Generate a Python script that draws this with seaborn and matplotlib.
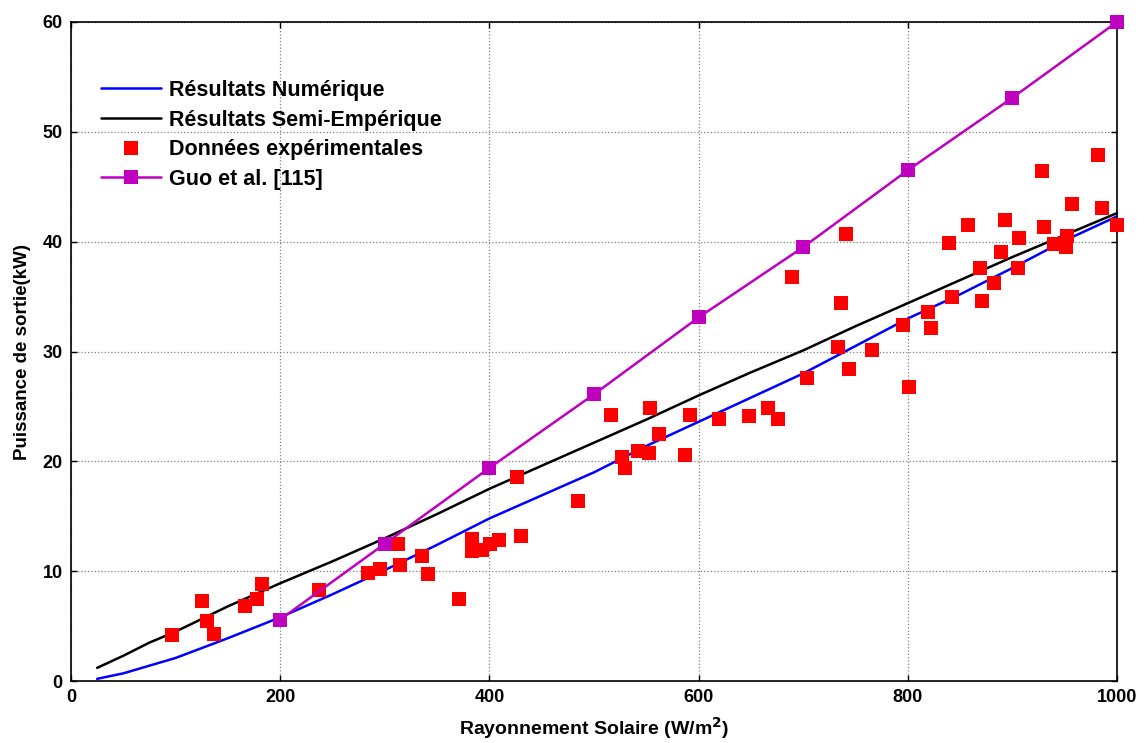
import matplotlib
matplotlib.use("Agg")
import matplotlib.pyplot as plt
import seaborn as sns
import pandas as pd
from matplotlib.lines import Line2D

# ---- data ----
num_x = [25, 50, 100, 150, 200, 250, 300, 350, 400, 450, 500, 550, 600, 650, 700, 750, 800, 850, 900, 950, 1000]
num_y = [0.2, 0.7, 2.1, 3.9, 5.8, 7.9, 10.1, 12.4, 14.8, 16.9, 19.0, 21.4, 23.6, 25.8, 28.0, 30.5, 33.0, 35.2, 37.6, 40.1, 42.3]

semi_x = [25, 50, 75, 100, 150, 200, 250, 300, 350, 400, 450, 500, 550, 600, 650, 700, 750, 800, 850, 900, 950, 1000]
semi_y = [1.2, 2.3, 3.5, 4.5, 6.8, 8.9, 10.9, 13.0, 15.2, 17.5, 19.6, 21.7, 23.8, 26.0, 28.1, 30.1, 32.3, 34.4, 36.5, 38.6, 40.6, 42.6]

exp_x = [97, 125, 130, 137, 166, 178, 183, 237, 284, 295,
         313, 315, 336, 341, 371, 383, 383, 393, 401, 409,
         426, 430, 485, 516, 527, 530, 542, 553, 554, 562,
         587, 592, 620, 648, 666, 676, 689, 704, 733, 736,
         741, 744, 766, 795, 801, 819, 822, 839, 842, 858,
         869, 871, 882, 889, 893, 905, 906, 928, 930, 940,
         951, 952, 957, 982, 986, 1000]
exp_y = [4.2, 7.3, 5.5, 4.3, 6.8, 7.5, 8.8, 8.3, 9.8, 10.2,
         12.5, 10.6, 11.4, 9.7, 7.5, 12.9, 11.8, 11.9, 12.5, 12.8,
         18.6, 13.2, 16.4, 24.2, 20.4, 19.4, 20.9, 20.8, 24.9, 22.5,
         20.6, 24.2, 23.9, 24.1, 24.9, 23.9, 36.8, 27.6, 30.4, 34.4,
         40.7, 28.4, 30.1, 32.4, 26.8, 33.6, 32.1, 39.9, 35.0, 41.5,
         37.6, 34.6, 36.2, 39.1, 42.0, 37.6, 40.3, 46.4, 41.3, 39.8,
         39.5, 40.5, 43.4, 47.9, 43.1, 41.5]

guo_x = [200, 300, 400, 500, 600, 700, 800, 900, 1000]
guo_y = [5.6, 12.5, 19.4, 26.1, 33.1, 39.5, 46.5, 53.1, 60.0]

labels = ["Résultats Numérique", "Résultats Semi-Empérique", "Données expérimentales", "Guo et al. [115]"]
x_ticks = [0, 200, 400, 600, 800, 1000]
y_ticks = [0, 10, 20, 30, 40, 50, 60]

# ---- style ----
sns.set_style("ticks")
plt.rcParams['font.family'] = ['Liberation Sans', 'DejaVu Sans']
plt.rcParams['font.weight'] = 'bold'
plt.rcParams['text.color'] = 'black'
plt.rcParams['axes.labelcolor'] = 'black'
plt.rcParams['xtick.color'] = 'black'
plt.rcParams['ytick.color'] = 'black'

fig = plt.figure(figsize=(11.47, 7.43), dpi=100)
ax = fig.add_axes([0.0619, 0.0834, 0.9119, 0.887])

blue, black, red, purple = "#0000FF", "#000000", "#FF0000", "#BF00BF"

sns.lineplot(x=num_x, y=num_y, ax=ax, color=blue, lw=1.8, estimator=None, sort=False)
sns.lineplot(x=semi_x, y=semi_y, ax=ax, color=black, lw=1.8, estimator=None, sort=False)
sns.scatterplot(x=exp_x, y=exp_y, ax=ax, color=red, marker="s", s=110, linewidth=0, zorder=3)
sns.lineplot(x=guo_x, y=guo_y, ax=ax, color=purple, lw=1.8, marker="s", markersize=10,
             markeredgewidth=0, estimator=None, sort=False, zorder=4)
for c in ax.collections:
    c.set_clip_on(False)
for l in ax.lines:
    l.set_clip_on(False)

ax.set_xlim(0, 1000)
ax.set_ylim(0, 60)
ax.set_xticks(x_ticks)
ax.set_yticks(y_ticks)
ax.set_xticklabels([str(v) for v in x_ticks], fontsize=13, fontweight='bold')
ax.set_yticklabels([str(v) for v in y_ticks], fontsize=13, fontweight='bold')
ax.tick_params(direction='in', top=True, right=True, length=4, width=1, pad=6, colors='black')
ax.grid(True, color="#808080", linestyle=":", linewidth=0.9)
for s in ax.spines.values():
    s.set_visible(True)
    s.set_linewidth(1.2)
    s.set_color("black")

ax.set_xlabel("Rayonnement Solaire (W/m$^\\mathbf{2}$)", fontsize=14, fontweight='bold', labelpad=6)
ax.set_ylabel("Puissance de sortie(kW)", fontsize=13.5, fontweight='bold', labelpad=8)

handles = [
    Line2D([], [], color=blue, lw=1.8),
    Line2D([], [], color=black, lw=1.8),
    Line2D([], [], color=red, marker="s", markersize=10, linestyle="None", markeredgewidth=0),
    Line2D([], [], color=purple, lw=1.8, marker="s", markersize=10, markeredgewidth=0),
]
ax.legend(handles, labels, loc="upper left", bbox_to_anchor=(0.02, 0.925), frameon=False,
          prop={'size': 15.5, 'weight': 'bold'}, handlelength=2.8, labelspacing=0.4,
          handletextpad=0.4, borderaxespad=0)

fig.savefig("out.png", dpi=100)
